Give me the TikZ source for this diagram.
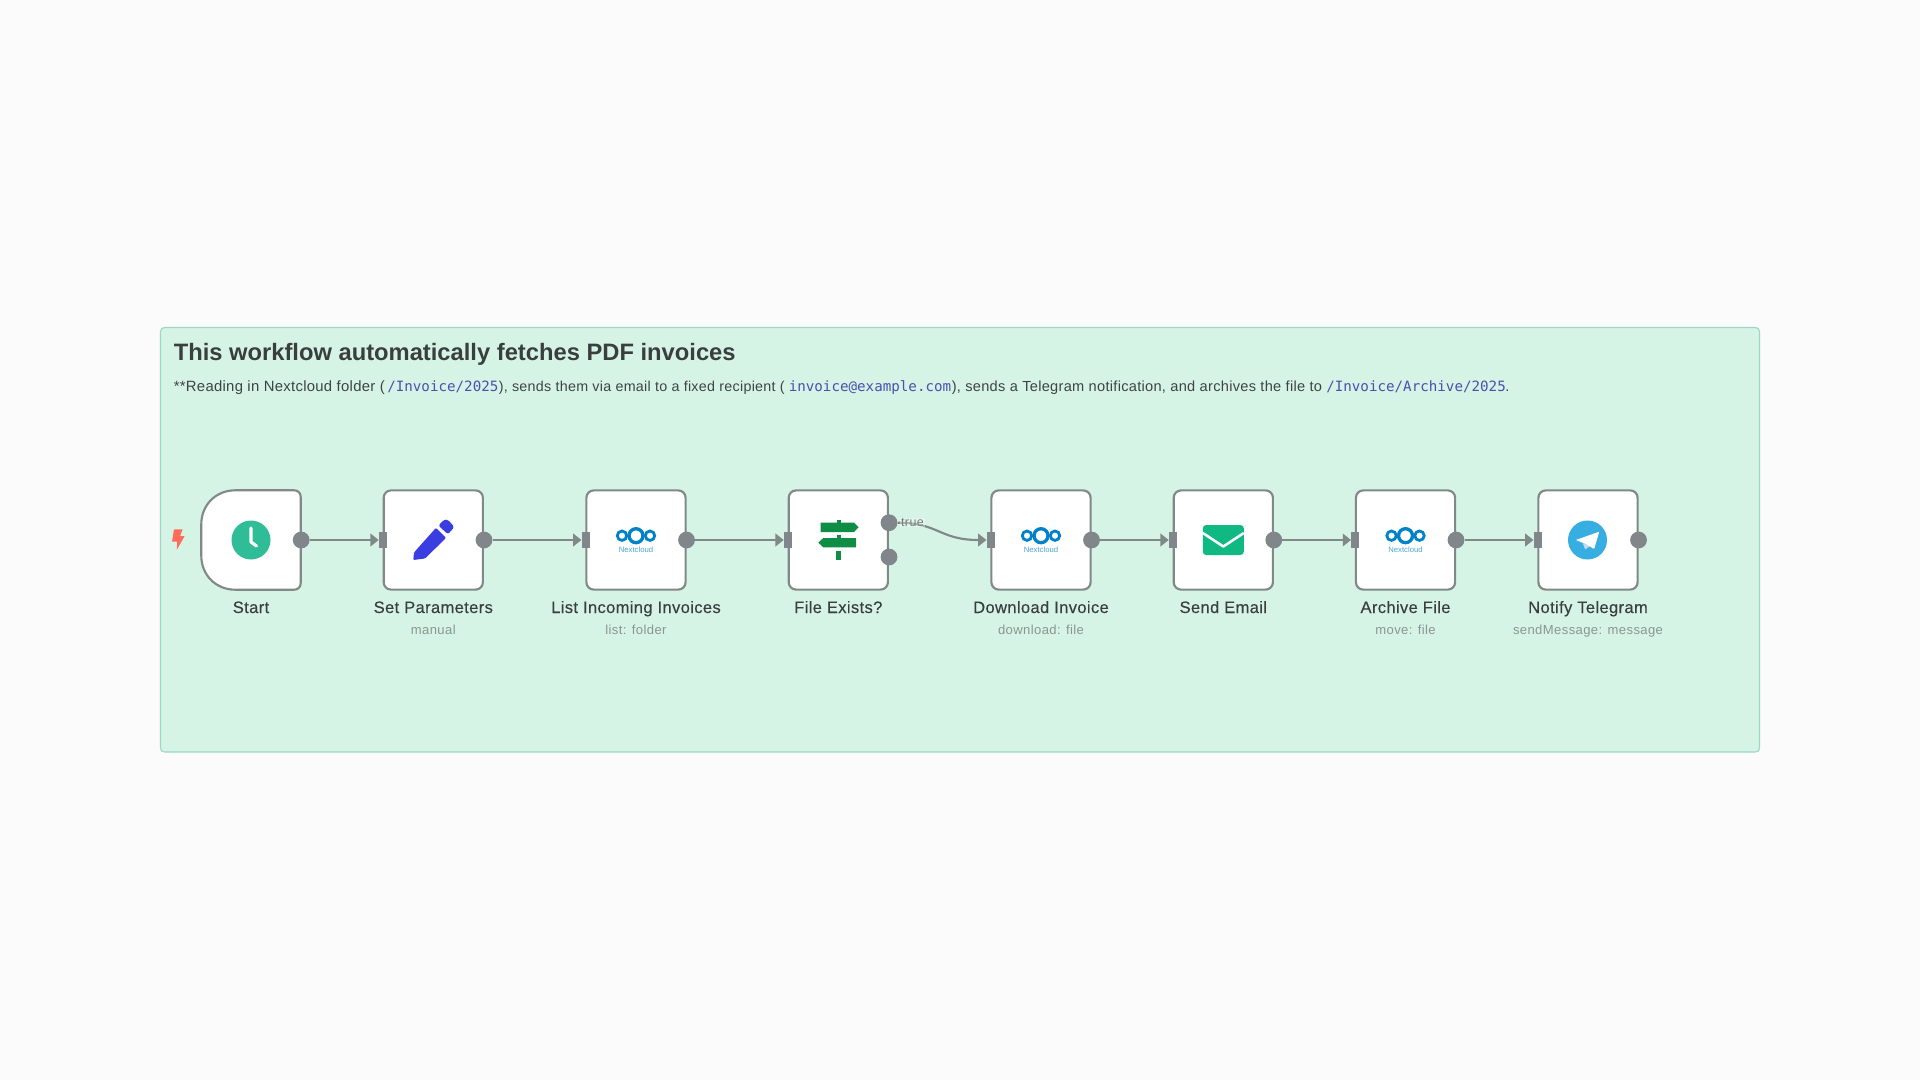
\documentclass[tikz,border=0pt]{standalone}
\usepackage{fontspec}
\setmainfont{Liberation Sans}
\setmonofont{DejaVu Sans Mono}
\newfontfamily\bodyface[LetterSpace=2]{Liberation Sans}
\newfontfamily\nameface[LetterSpace=2.2,FakeBold=0.2]{Liberation Sans}
\newfontfamily\subface[LetterSpace=3]{Liberation Sans}
\usetikzlibrary{arrows.meta,calc}
\definecolor{pagebg}{HTML}{FAFBFA}
\definecolor{panelbg}{HTML}{D5F4E6}
\definecolor{panelline}{HTML}{9BD9C2}
\definecolor{nodeline}{HTML}{808987}
\definecolor{portgrey}{HTML}{80868A}
\definecolor{titleink}{HTML}{3A3F3E}
\definecolor{bodyink}{HTML}{3F4443}
\definecolor{subink}{HTML}{8A9693}
\definecolor{codeink}{HTML}{4A50AE}
\definecolor{ncblue}{HTML}{0082C9}
\definecolor{ncsoft}{HTML}{4BA6D8}
\definecolor{boltred}{HTML}{FF6D5A}
\definecolor{clockteal}{HTML}{2EBD97}
\definecolor{penblue}{HTML}{3A3DE0}
\definecolor{signgreen}{HTML}{0F8D45}
\definecolor{mailgreen}{HTML}{10B981}
\definecolor{teleblue}{HTML}{37AEE2}
\definecolor{telefold}{HTML}{C8DAEA}
\tikzset{
  flowbox/.style={draw=nodeline,line width=1.6pt,fill=white,rounded corners=5.5pt,minimum width=74.4pt,minimum height=74.4pt,inner sep=0pt},
  outport/.style={circle,fill=portgrey,minimum size=12.6pt,inner sep=0pt},
  inport/.style={rectangle,fill=portgrey,minimum width=6pt,minimum height=12pt,inner sep=0pt},
  flowedge/.style={draw=nodeline,line width=1.6pt,-{Triangle[length=6.2pt,width=9.4pt,fill=nodeline]}},
  nametext/.style={anchor=base,inner sep=0pt,text=titleink,font=\nameface\fontsize{12.4pt}{14pt}\selectfont},
  subtext/.style={anchor=base,inner sep=0pt,text=subink,font=\subface\fontsize{9.8pt}{11pt}\selectfont},
  bodyseg/.style={anchor=base west,inner sep=0pt,text=bodyink,font=\bodyface\fontsize{11pt}{13pt}\selectfont},
  codeseg/.style={anchor=base west,inner sep=0pt,text=codeink,font=\ttfamily\fontsize{10.65pt}{13pt}\selectfont},
}
\newcommand{\flowcard}[4]{%
  \node[flowbox] (#1) at (#2,540) {};
  \node[nametext] (#1name) at (#2,613) {#3};
  \node[subtext] (#1sub) at (#2,634.3) {#4};
}
\newcommand{\ncicon}[1]{%
  \begin{scope}[shift={(#1,0)}]
    \draw[ncblue,line width=2.5pt] (0,535.7) circle[radius=7];
    \draw[ncblue,line width=2.1pt] (-14,535.7) circle[radius=4.7];
    \draw[ncblue,line width=2.1pt] (14,535.7) circle[radius=4.7];
    \node[inner sep=0pt,text=ncsoft,font=\fontsize{5.8pt}{6pt}\selectfont] at (0,549.8) {Nextcloud};
  \end{scope}}
\begin{document}
\begin{tikzpicture}[x=0.75pt,y=-0.75pt]
\useasboundingbox (0,0) rectangle (1920,1080);
\fill[pagebg] (0,0) rectangle (1920,1080);
\draw[panelline,fill=panelbg,line width=0.8pt,rounded corners=3pt] (160.5,327.5) rectangle (1759.5,752);
% heading
\node[anchor=base west,inner sep=0pt,text=titleink,font=\bfseries\fontsize{17.8pt}{22pt}\selectfont] (title) at (173.5,361) {This workflow automatically fetches PDF invoices};
\node[bodyseg,font=\bodyface\fontsize{11.15pt}{13pt}\selectfont] (b1) at (173.5,391.7) {**Reading in Nextcloud folder (};
\node[codeseg] (c1) at (387,391.7) {/Invoice/2025};
\node[bodyseg,font=\bodyface\fontsize{10.72pt}{13pt}\selectfont] (b2) at (498.5,391.7) {), sends them via email to a fixed recipient (};
\node[codeseg] (c2) at (788.5,391.7) {invoice@example.com};
\node[bodyseg,font=\bodyface\fontsize{10.95pt}{13pt}\selectfont] (b3) at (951.5,391.7) {), sends a Telegram notification, and archives the file to};
\node[codeseg] (c3) at (1326,391.7) {/Invoice/Archive/2025};
\node[bodyseg] (b4) at (1505,391.7) {.};
% start card (left corners large)
\draw[nodeline,line width=1.6pt,fill=white] (294,490.3) -- (235,490.3) .. controls (216,490.3) and (201.3,505) .. (201.3,524) -- (201.3,556) .. controls (201.3,575) and (216,589.7) .. (235,589.7) -- (294,589.7) .. controls (298,589.7) and (300.7,587) .. (300.7,583) -- (300.7,497) .. controls (300.7,493) and (298,490.3) .. (294,490.3) -- cycle;
\node[minimum size=74.4pt,inner sep=0pt] (start) at (251,540) {};
\node[nametext] (startname) at (251,613) {Start};
\flowcard{setp}{433.3}{Set Parameters}{manual}
\flowcard{list}{636}{List Incoming Invoices}{list: folder}
\flowcard{exists}{838.3}{File Exists?}{}
\flowcard{down}{1041}{Download Invoice}{download: file}
\flowcard{mail}{1223.3}{Send Email}{}
\flowcard{arch}{1405.5}{Archive File}{move: file}
\flowcard{tele}{1588}{Notify Telegram}{sendMessage: message}
% trigger bolt
\fill[boltred,rounded corners=0.4pt] (174,529.3) -- (182.7,529.3) -- (180,536) -- (184.7,536) -- (176.7,550) -- (177.3,541.7) -- (172,541.7) -- cycle;
% clock
\fill[clockteal] (251,540) circle[radius=19.5];
\draw[white,line width=2.4pt,line cap=round,line join=round] (251,528) -- (251,542) -- (256.5,546);
% pencil
\begin{scope}[shift={(433.3,540)}]
  \fill[penblue,rounded corners=0.8pt] (-20,20) -- (-19.3,12.5) -- (2.7,-12.2) -- (12.7,-2) -- (-8.3,18.5) -- cycle;
  \fill[penblue,rounded corners=1.8pt] (5,-14.5) -- (11,-20.5) -- (15,-20) -- (21,-13) -- (14.7,-5.7) -- cycle;
\end{scope}
% nextcloud
\ncicon{636}
\ncicon{1041}
\ncicon{1405.5}
% signpost
\begin{scope}[shift={(838.3,540)}]
  \fill[signgreen] (-17.7,-17.3) -- (15.7,-17.3) -- (20.3,-12.7) -- (15.7,-8) -- (-17.7,-8) -- cycle;
  \fill[signgreen] (-1.7,-20) rectangle (2.3,-17);
  \fill[signgreen] (-15,-2) -- (17.7,-2) -- (17.7,7.3) -- (-15,7.3) -- (-20,2.7) -- cycle;
  \fill[signgreen] (-1.7,-5) rectangle (2.3,-2);
  \fill[signgreen] (-2.3,10.7) rectangle (2.7,20);
\end{scope}
% envelope
\begin{scope}[shift={(1223.3,540)}]
  \fill[mailgreen,rounded corners=2.5pt] (-20.5,-15) rectangle (20.5,15);
  \draw[white,line width=1.9pt,line join=round] (-20.5,-7) -- (0,6.5) -- (20.5,-7);
\end{scope}
% telegram
\begin{scope}[shift={(1587.5,540)}]
  \fill[teleblue] (0,0) circle[radius=19.5];
  \fill[telefold] (-4.7,3.3) -- (-2.3,9.3) -- (2.7,6) -- cycle;
  \fill[white,rounded corners=0.5pt] (-11.7,0) -- (11.7,-8.3) -- (6.7,9) -- (-2,4) -- cycle;
\end{scope}
% ports
\foreach \nm/\cx in {start/301.2,setp/484,list/686.5,down/1091.5,mail/1273.8,arch/1456,tele/1638.5}{
  \node[outport] (\nm out) at (\cx,540) {};
}
\node[outport] (existsyes) at (889,522.7) {};
\node[outport] (existsno) at (889,557) {};
\foreach \nm/\cx in {setp/383,list/585.7,exists/788,down/990.7,mail/1173,arch/1355.3,tele/1537.7}{
  \node[inport] (\nm in) at (\cx,540) {};
}
% connectors
\draw[flowedge] (startout) -- (setpin);
\draw[flowedge] (setpout) -- (listin);
\draw[flowedge] (listout) -- (existsin);
\draw[flowedge] (downout) -- (mailin);
\draw[flowedge] (mailout) -- (archin);
\draw[flowedge] (archout) -- (telein);
\draw[flowedge] (existsyes.east) .. controls (939,522.7) and (939,540) .. (downin.west);
\node[fill=white,fill opacity=0.35,text opacity=1,text=subink!85!black,inner xsep=1pt,inner ysep=0.5pt,font=\subface\fontsize{9.4pt}{10pt}\selectfont] (truelabel) at (912.5,522.7) {true};
\end{tikzpicture}
\end{document}
